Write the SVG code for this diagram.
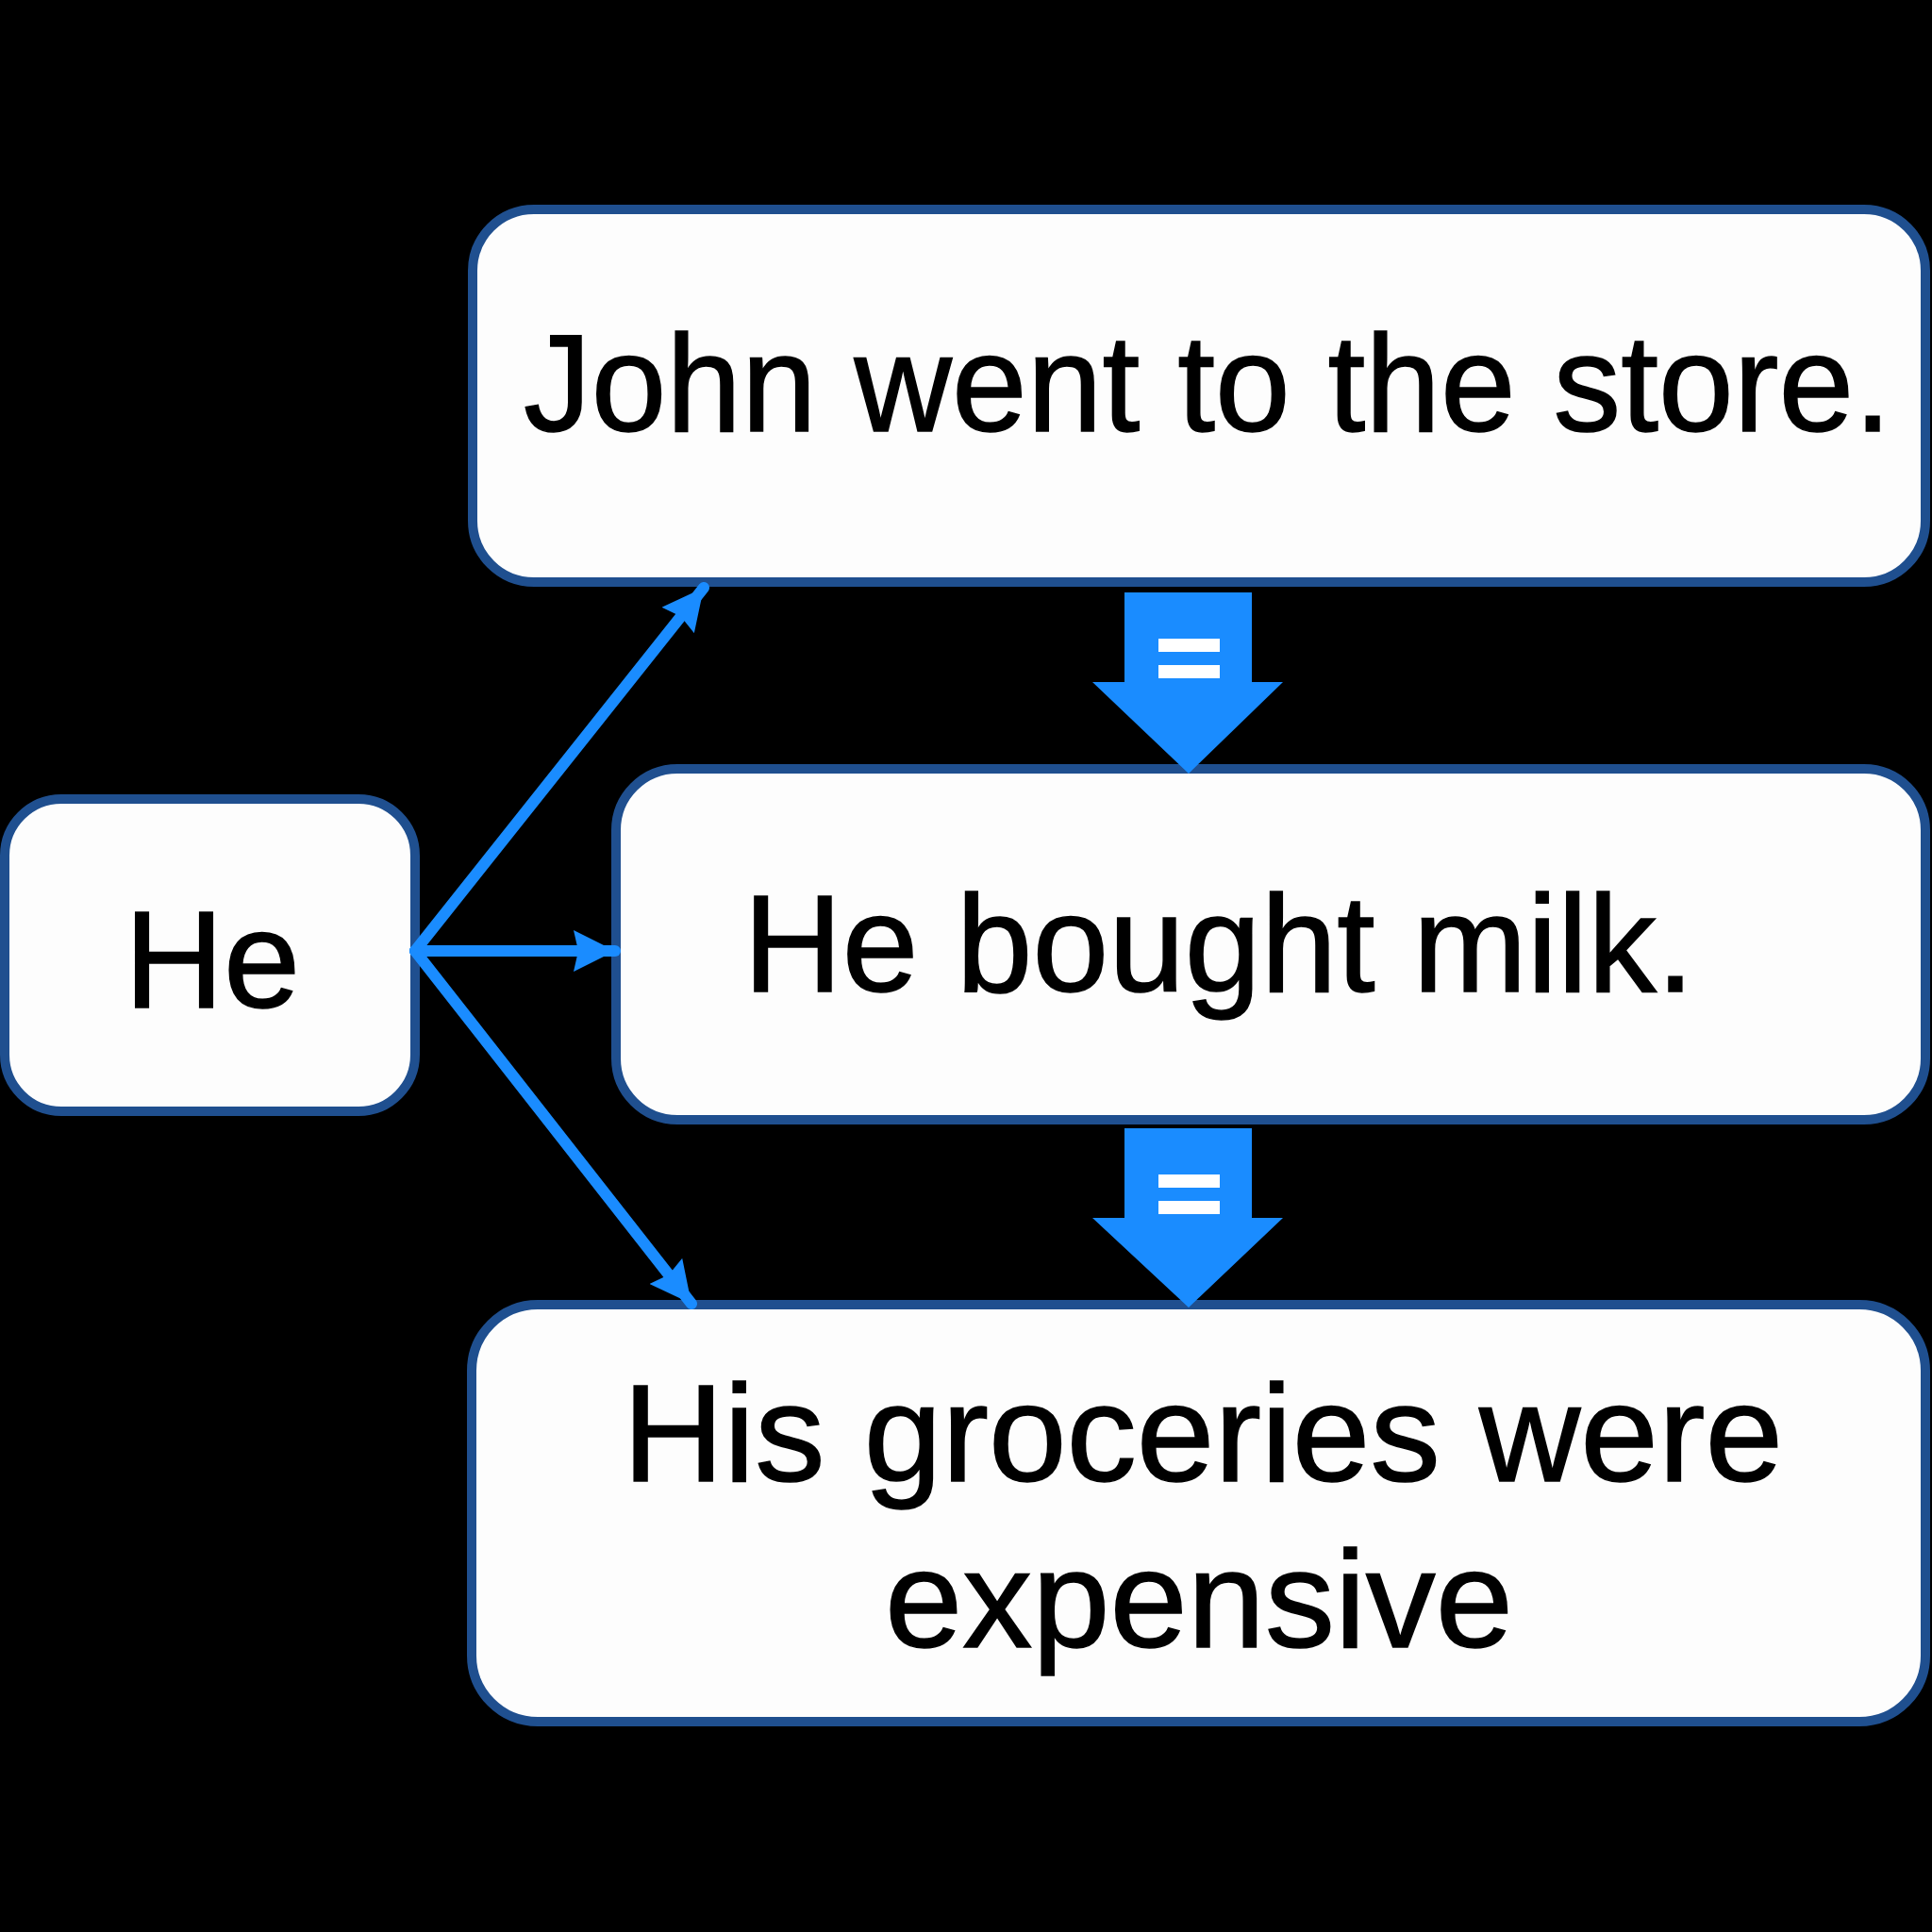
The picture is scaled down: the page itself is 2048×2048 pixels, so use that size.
<svg xmlns="http://www.w3.org/2000/svg" width="2048" height="2048" viewBox="0 0 2048 2048">
<style>
.box{fill:#fdfdfd;stroke:#1f4f8f;stroke-width:10}
.lbl{font-family:"Liberation Sans",Arial,sans-serif;font-size:146px;fill:#000;text-anchor:middle;stroke:#000;stroke-width:1.5}
.conn{stroke:#1a8cff;stroke-width:12;fill:none;stroke-linecap:round}
.big{fill:#1a8cff}
.eq{fill:#ffffff}
</style>
<defs>
<marker id="ah" markerUnits="userSpaceOnUse" viewBox="0 0 44 44" markerWidth="44" markerHeight="44" refX="44" refY="22" orient="auto">
<path d="M0,0 L44,22 L0,44 L5,22 Z" fill="#1a8cff"/>
</marker>
</defs>
<rect width="2048" height="2048" fill="#000"/>
<g id="node-john">
<rect class="box" x="501" y="222" width="1540" height="395" rx="65"/>
<text class="lbl" x="1280" y="457" textLength="1450" lengthAdjust="spacingAndGlyphs">John went to the store.</text>
</g>
<g id="node-bought">
<rect class="box" x="653" y="815" width="1388" height="372" rx="65"/>
<text class="lbl" x="1292" y="1051" textLength="1008" lengthAdjust="spacingAndGlyphs">He bought milk.</text>
</g>
<g id="node-groceries">
<rect class="box" x="500" y="1383" width="1541" height="442" rx="70"/>
<text class="lbl" x="1275" y="1570" textLength="1230" lengthAdjust="spacingAndGlyphs">His groceries were</text>
<text class="lbl" x="1271" y="1746" textLength="666" lengthAdjust="spacingAndGlyphs">expensive</text>
</g>
<g id="node-he">
<rect class="box" x="5" y="847" width="435" height="331" rx="60"/>
<text class="lbl" x="225" y="1068">He</text>
</g>
<g id="connectors">
<line class="conn" x1="440" y1="1008" x2="746" y2="623" marker-end="url(#ah)"/>
<line class="conn" x1="440" y1="1008" x2="652" y2="1008" marker-end="url(#ah)"/>
<line class="conn" x1="440" y1="1008" x2="733" y2="1382" marker-end="url(#ah)"/>
<g id="eq-arrow-1">
<polygon class="big" points="1192,628 1327,628 1327,723 1360,723 1260,820 1158,723 1192,723"/>
<rect class="eq" x="1228" y="677" width="65" height="14"/>
<rect class="eq" x="1228" y="705" width="65" height="14"/>
</g>
<g id="eq-arrow-2">
<polygon class="big" points="1192,1196 1327,1196 1327,1291 1360,1291 1260,1386 1158,1291 1192,1291"/>
<rect class="eq" x="1228" y="1245" width="65" height="14"/>
<rect class="eq" x="1228" y="1273" width="65" height="14"/>
</g>
</g>
</svg>
